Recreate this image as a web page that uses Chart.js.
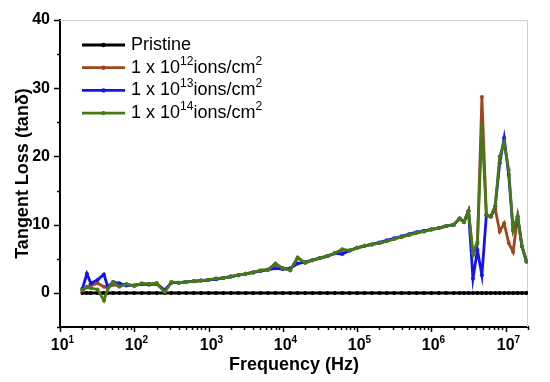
<!DOCTYPE html>
<html>
<head>
<meta charset="utf-8">
<script src="https://cdn.jsdelivr.net/npm/chart.js@4.4.0/dist/chart.umd.min.js"></script>
<style>
  html, body { margin: 0; padding: 0; background: #fff; }
  #wrap { width: 550px; height: 382px; }
</style>
</head>
<body>
<div id="wrap"><canvas id="grafica" width="550" height="382"></canvas></div>
<script>
const FUENTE = "'Liberation Sans', Arial, sans-serif";

// Frecuencias (Hz)
const frecuencias = [20, 23, 26, 32, 39, 44, 52, 63, 78,
  100, 126, 158, 200, 257, 316, 398, 501, 631, 794,
  1000, 1259, 1585, 1995, 2512, 3162, 3981, 5012, 6310, 7943,
  1.0e4, 1.26e4, 1.58e4, 2.0e4, 2.51e4, 3.16e4, 3.98e4, 5.01e4, 6.31e4, 7.94e4,
  1.0e5, 1.26e5, 1.58e5, 2.0e5, 2.51e5, 3.16e5, 3.98e5, 5.01e5, 6.31e5, 7.94e5,
  1.0e6, 1.26e6, 1.58e6, 2.0e6, 2.4e6, 2.75e6, 3.16e6, 3.63e6, 4.17e6, 4.79e6,
  5.5e6, 6.31e6, 7.24e6, 8.32e6, 9.55e6, 1.1e7, 1.26e7, 1.45e7, 1.66e7, 1.91e7];

const pristine = [0, 0, 0, 0, 0, 0, 0, 0, 0,
  0, 0, 0, 0, 0, 0, 0, 0, 0, 0,
  0, 0, 0, 0, 0, 0, 0, 0, 0, 0,
  0, 0, 0, 0, 0, 0, 0, 0, 0, 0,
  0, 0, 0, 0, 0, 0, 0, 0, 0, 0,
  0, 0, 0, 0, 0, 0, 0, 0, 0, 0,
  0, 0, 0, 0, 0, 0, 0, 0, 0, 0];

const dosis12 = [0.3, 0.9, 1.1, 1.4, 0.9, 0.8, 1.2, 1.0, 1.2,
  1.1, 1.3, 1.3, 1.4, 0.3, 1.5, 1.5, 1.6, 1.7, 1.8,
  1.9, 2.1, 2.2, 2.4, 2.6, 2.8, 3.0, 3.3, 3.4, 4.2,
  3.6, 3.4, 5.1, 4.4, 4.8, 5.1, 5.4, 5.8, 6.3, 6.2,
  6.6, 6.9, 7.1, 7.3, 7.6, 7.9, 8.2, 8.5, 8.8, 9.0,
  9.3, 9.5, 9.8, 10.0, 10.9, 10.4, 12.0, 5.5, 7.2, 28.7,
  11.4, 11.2, 12.3, 9.0, 10.2, 7.3, 6.0, 11.2, 6.8, 4.6];

const dosis13 = [0.6, 2.8, 1.4, 1.9, 2.7, 0.9, 1.6, 1.4, 1.1,
  1.1, 1.3, 1.2, 1.3, 0.4, 1.5, 1.5, 1.6, 1.7, 1.8,
  1.9, 2.0, 2.2, 2.4, 2.6, 2.8, 3.0, 3.2, 3.4, 3.6,
  3.5, 3.6, 4.3, 4.5, 4.8, 5.1, 5.4, 5.8, 5.7, 6.2,
  6.6, 6.9, 7.1, 7.4, 7.7, 8.0, 8.3, 8.6, 8.9, 9.1,
  9.3, 9.5, 9.8, 10.0, 10.9, 10.4, 12.0, 2.1, 6.3, 2.6,
  11.4, 11.2, 12.7, 19.0, 22.7, 17.3, 9.2, 11.2, 6.8, 4.6];

const dosis14 = [0.5, 0.8, 0.7, 0.5, -1.1, 0.6, 1.6, 0.9, 1.3,
  1.0, 1.4, 1.3, 1.4, 0.1, 1.6, 1.5, 1.6, 1.7, 1.8,
  1.9, 2.1, 2.2, 2.4, 2.6, 2.8, 3.0, 3.3, 3.4, 4.3,
  3.6, 3.3, 5.2, 4.4, 4.8, 5.1, 5.4, 5.8, 6.4, 6.2,
  6.6, 6.9, 7.1, 7.3, 7.6, 7.9, 8.2, 8.5, 8.8, 9.0,
  9.3, 9.5, 9.8, 10.0, 10.9, 10.4, 12.0, 5.8, 7.5, 24.5,
  11.4, 11.2, 12.7, 20.0, 22.0, 18.0, 9.2, 11.2, 6.8, 4.6];

const etiquetas = ['Pristine', '1 x 10¹²ions/cm²', '1 x 10¹³ions/cm²', '1 x 10¹⁴ions/cm²'];
const decadasX = [1, 2, 3, 4, 5, 6, 7];
const etiquetasX = ['10¹', '10²', '10³', '10⁴', '10⁵', '10⁶', '10⁷'];
const ticksY = [0, 10, 20, 30, 40];

const SUP = '⁰¹²³⁴⁵⁶⁷⁸⁹';

function puntos(valores) {
  return frecuencias.map((f, i) => ({ x: f, y: valores[i] }));
}

// texto con superindices dibujados en letra pequeña
function textoRico(ctx, txt, x, y, tam, peso, alinear) {
  const fuente = (t) => (peso ? peso + ' ' : '') + t + 'px ' + FUENTE;
  const trozos = [];
  let i = 0;
  while (i < txt.length) {
    const sup = SUP.includes(txt[i]);
    let j = i, run = '';
    while (j < txt.length && SUP.includes(txt[j]) === sup) {
      run += sup ? String(SUP.indexOf(txt[j])) : txt[j];
      j++;
    }
    trozos.push({ run, sup });
    i = j;
  }
  ctx.textBaseline = 'middle';
  ctx.textAlign = 'left';
  ctx.fillStyle = '#000';
  let total = 0;
  trozos.forEach(t => {
    ctx.font = fuente(t.sup ? Math.round(tam * 0.65) : tam);
    t.w = ctx.measureText(t.run).width;
    total += t.w;
  });
  if (alinear === 'center') x -= total / 2;
  trozos.forEach(t => {
    ctx.font = fuente(t.sup ? Math.round(tam * 0.65) : tam);
    ctx.fillText(t.run, x, t.sup ? y - tam * 0.35 : y);
    x += t.w;
  });
}

const leyenda = {
  id: 'leyenda',
  afterDraw(chart) {
    const ctx = chart.ctx;
    ctx.save();
    chart.data.datasets.forEach((ds, i) => {
      const y = 45 + i * 22.7;
      ctx.strokeStyle = ds.borderColor;
      ctx.lineWidth = 2.8;
      ctx.beginPath();
      ctx.moveTo(82, y);
      ctx.lineTo(125, y);
      ctx.stroke();
      ctx.fillStyle = ds.borderColor;
      ctx.beginPath();
      ctx.arc(103.5, y, 2.2, 0, Math.PI * 2);
      ctx.fill();
      textoRico(ctx, ds.label, 131, y, 18);
    });
    ctx.restore();
  }
};

// marco gris arriba/derecha, marcas de los ejes y etiquetas de X
const marco = {
  id: 'marco',
  beforeDatasetsDraw(chart) {
    const { ctx, chartArea: a } = chart;
    ctx.save();
    ctx.strokeStyle = '#cfcfcf';
    ctx.lineWidth = 1;
    ctx.beginPath();
    ctx.moveTo(a.left, a.top + 0.5);
    ctx.lineTo(a.right - 0.5, a.top + 0.5);
    ctx.lineTo(a.right - 0.5, a.bottom);
    ctx.stroke();
    ctx.restore();
  },
  afterDraw(chart) {
    const { ctx, chartArea: a, scales } = chart;
    ctx.save();
    ctx.strokeStyle = '#000';
    ctx.lineWidth = 1.5;
    scales.y.ticks.forEach(t => {
      const py = Math.round(scales.y.getPixelForValue(t.value)) + 0.5;
      const len = t.value % 10 === 0 ? 6 : 3;
      ctx.beginPath();
      ctx.moveTo(a.left - len, py);
      ctx.lineTo(a.left, py);
      ctx.stroke();
    });
    scales.x.ticks.forEach(t => {
      const px = Math.round(scales.x.getPixelForValue(t.value)) + 0.5;
      const e = Math.log10(t.value);
      const mayor = Math.abs(e - Math.round(e)) < 1e-9;
      const len = mayor ? 5 : 3;
      ctx.beginPath();
      ctx.moveTo(px, a.bottom);
      ctx.lineTo(px, a.bottom + len);
      ctx.stroke();
      const k = decadasX.indexOf(Math.round(e));
      if (mayor && k >= 0) {
        textoRico(ctx, etiquetasX[k], px + 2, a.bottom + 19, 16, 'bold', 'center');
      }
    });
    ctx.restore();
  }
};

Chart.defaults.font.family = FUENTE;
Chart.defaults.color = '#000';

const estilo = (color, ancho, radio, orden) => ({
  borderColor: color,
  backgroundColor: color,
  pointBackgroundColor: color,
  pointBorderWidth: 0,
  pointRadius: radio,
  borderWidth: ancho,
  order: orden
});

let ctx = document.getElementById('grafica').getContext('2d');
let grafica = new Chart(ctx, {
  type: 'line',
  data: {
    datasets: [
      { label: etiquetas[0], data: puntos(pristine), ...estilo('#000000', 3, 2, 3) },
      { label: etiquetas[1], data: puntos(dosis12), ...estilo('#a0461e', 2.8, 2, 2) },
      { label: etiquetas[2], data: puntos(dosis13), ...estilo('#1414ee', 2.8, 2, 1) },
      { label: etiquetas[3], data: puntos(dosis14), ...estilo('#467a16', 2.8, 2, 0) }
    ]
  },
  options: {
    responsive: false,
    animation: false,
    layout: { padding: { top: 20, right: 22, left: 0, bottom: 0 } },
    plugins: { legend: { display: false }, tooltip: { enabled: false } },
    scales: {
      x: {
        type: 'logarithmic',
        min: 10,
        max: 2e7,
        afterBuildTicks: scale => {
          const lista = [];
          decadasX.forEach(d => {
            for (let m = 1; m < 10; m++) {
              const v = m * Math.pow(10, d - 1);
              if (v >= 10) lista.push({ value: v });
            }
          });
          [1e7, 2e7].forEach(v => lista.push({ value: v }));
          scale.ticks = lista;
        },
        afterFit: scale => { scale.height = 55; },
        grid: { display: false, drawTicks: false },
        border: { display: true, color: '#000', width: 2 },
        ticks: {
          autoSkip: false,
          maxRotation: 0,
          // las etiquetas se dibujan con superindice en el plugin
          callback: () => ''
        },
        title: {
          display: true,
          text: 'Frequency (Hz)',
          font: { size: 18, weight: 'bold' },
          padding: { top: 0, bottom: 6 }
        }
      },
      y: {
        min: -5,
        max: 40,
        ticks: {
          stepSize: 5,
          padding: 10,
          font: { size: 16, weight: 'bold' },
          callback: v => ticksY.includes(v) ? String(v) : ''
        },
        afterFit: scale => { scale.width = 60; },
        grid: { display: false, drawTicks: false },
        border: { display: true, color: '#000', width: 2 },
        title: {
          display: true,
          text: 'Tangent Loss (tanδ)',
          font: { size: 18, weight: 'bold' },
          padding: { top: 12, bottom: 0 }
        }
      }
    }
  },
  plugins: [marco, leyenda]
});
</script>
</body>
</html>
